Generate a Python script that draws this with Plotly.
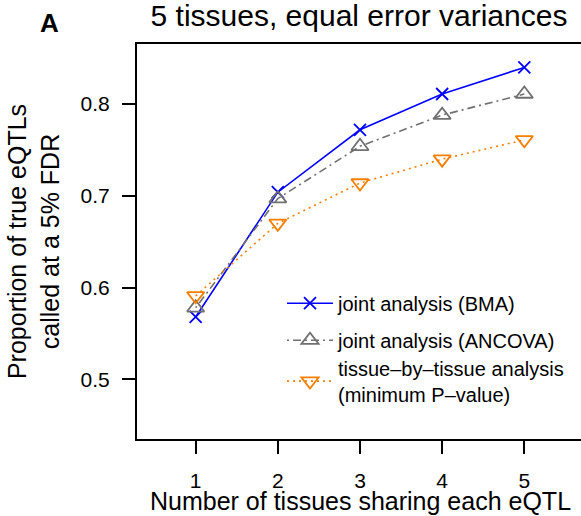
import plotly.graph_objects as go

# Number of tissues in which the eQTL is active
n_tissues = [1, 2, 3, 4, 5]

# Proportion of true eQTLs called at 5% FDR, per method
bma = [0.568, 0.704, 0.772, 0.811, 0.840]
ancova = [0.578, 0.697, 0.754, 0.788, 0.811]
min_pvalue = [0.591, 0.670, 0.714, 0.740, 0.761]

series = [
    ("joint analysis (BMA)", bma, "#0000FF", "solid", "x-thin-open", 12, "legend"),
    ("joint analysis (ANCOVA)", ancova, "#707070", "2px,4px,8px,4px", "triangle-up-open", 15, "legend"),
    ("tissue\u2013by\u2013tissue analysis<br>(minimum P\u2013value)", min_pvalue, "#F57F00", "2px,4px",
     "triangle-down-open", 15, "legend2"),
]

fig = go.Figure()
for i, (name, vals, color, dash, symbol, msize, leg) in enumerate(series):
    fig.add_trace(go.Scatter(
        x=n_tissues, y=vals, name=name, mode="lines+markers",
        legendgroup=f"g{i}", legend=leg,
        line=dict(color=color, width=1.6, dash=dash),
        marker=dict(symbol=symbol, size=msize, color=color,
                    line=dict(color=color, width=1.8)),
    ))

font = "Liberation Sans, Arial, sans-serif"
top, plot_h, left, plot_w = 44, 395.5, 137, 444


def ypaper(py):
    return 1 - (py - top) / plot_h


def xpaper(px):
    return (px - left) / plot_w


legend_style = dict(xanchor="left", yanchor="top", font=dict(size=20),
                    itemwidth=46, bgcolor="rgba(0,0,0,0)")

fig.update_layout(
    width=581, height=516,
    margin=dict(l=137, r=0, t=44, b=77, autoexpand=False),
    plot_bgcolor="white", paper_bgcolor="white",
    font=dict(family=font, color="black", size=21),
    title=dict(text="5 tissues, equal error variances", x=0.5, xref="paper",
               y=1 - 15 / 516, yref="container", yanchor="middle",
               font=dict(size=30), automargin=False),
    showlegend=True,
    legend=dict(x=xpaper(282), y=ypaper(284), tracegroupgap=8, **legend_style),
    legend2=dict(x=xpaper(282), y=ypaper(349), **legend_style),
    xaxis=dict(range=[0.286, 5.69], tickvals=n_tissues, automargin=False,
               showline=True, mirror=True, linecolor="black", linewidth=2,
               ticks="outside", ticklen=13, tickwidth=1.5, tickcolor="black",
               showgrid=False, zeroline=False, ticklabelstandoff=9),
    yaxis=dict(range=[0.435, 0.8655], tickvals=[0.5, 0.6, 0.7, 0.8],
               ticktext=["0.5", "0.6", "0.7", "0.8"], automargin=False,
               showline=True, mirror=False, linecolor="black", linewidth=2,
               ticks="outside", ticklen=13, tickwidth=1.5, tickcolor="black",
               showgrid=False, zeroline=False, ticklabelstandoff=8,
               title=dict(text="Proportion of true eQTLs<br>called at a 5% FDR",
                          font=dict(size=25), standoff=14)),
)

fig.add_annotation(text="Number of tissues sharing each eQTL", xref="paper", yref="paper",
                   x=xpaper(360), y=ypaper(502), xanchor="center", yanchor="middle",
                   showarrow=False, font=dict(size=25))

fig.add_annotation(text="<b>A</b>", xref="paper", yref="paper",
                   x=xpaper(49), y=ypaper(23),
                   xanchor="center", yanchor="middle", showarrow=False,
                   font=dict(size=26))

fig.write_html("out.html")
